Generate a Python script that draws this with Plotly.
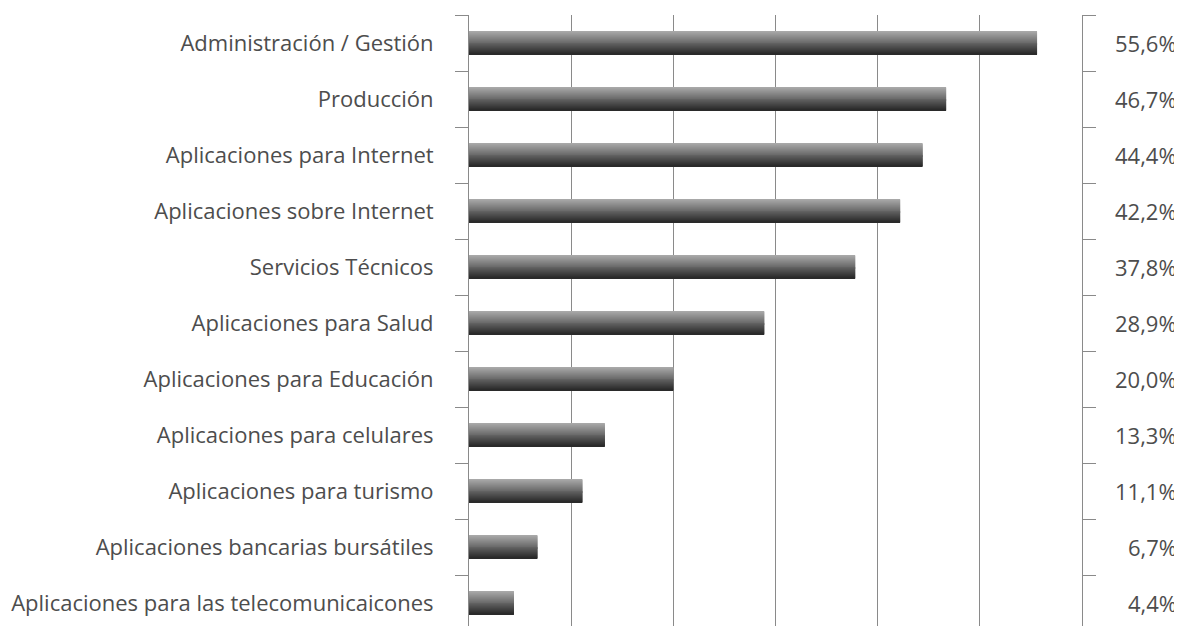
import plotly.graph_objects as go

categories = [
    "Administración / Gestión",
    "Producción",
    "Aplicaciones para Internet",
    "Aplicaciones sobre Internet",
    "Servicios Técnicos",
    "Aplicaciones para Salud",
    "Aplicaciones para Educación",
    "Aplicaciones para celulares",
    "Aplicaciones para turismo",
    "Aplicaciones bancarias bursátiles",
    "Aplicaciones para las telecomunicaicones",
]
values = [55.6, 46.7, 44.4, 42.2, 37.8, 28.9, 20.0, 13.3, 11.1, 6.7, 4.4]
value_labels = ["55,6%", "46,7%", "44,4%", "42,2%", "37,8%", "28,9%",
                "20,0%", "13,3%", "11,1%", "6,7%", "4,4%"]

OFF = 8  # default page body margin
W, H = 1182 - OFF, 626 - OFF
ML, MR, MT, MB = 469 - OFF, 100, 15 - OFF, 0
TEXT = "#4d4d4d"
AX = "#8a8a8a"
FONT = "Open Sans"
FS = 22

fig = go.Figure()

# cylinder-like gradient bars made of thin stacked strips
n = 24
bar_w = 0.42
strip = bar_w / n
top_c = (168, 168, 168)
bot_c = (42, 42, 42)
for i in range(n):
    t = i / (n - 1)
    c = tuple(round(top_c[k] + (bot_c[k] - top_c[k]) * t) for k in range(3))
    fig.add_trace(go.Bar(
        x=values, y=categories, orientation="h",
        width=strip * 1.15, offset=-bar_w / 2 + i * strip,
        marker=dict(color="rgb(%d,%d,%d)" % c, line=dict(width=0)),
        hoverinfo="skip", showlegend=False,
    ))

plot_w = W - ML - MR
for cat, lab in zip(categories, value_labels):
    fig.add_annotation(
        x=(1179 - OFF - ML) / plot_w, xref="paper", xanchor="right",
        y=cat, yref="y", text=lab, showarrow=False,
        font=dict(family=FONT, size=FS, color=TEXT),
    )

plot_h = H - MT - MB
span = plot_h / 56.0

fig.update_layout(
    width=W, height=H,
    margin=dict(l=ML, r=MR, t=MT, b=MB, pad=0),
    barmode="overlay",
    plot_bgcolor="white", paper_bgcolor="white",
    font=dict(family=FONT, size=FS, color=TEXT),
    xaxis=dict(range=[0, 60], dtick=10, showgrid=True, gridcolor=AX, gridwidth=1,
               showticklabels=False, zeroline=False, showline=False, ticks=""),
    yaxis=dict(type="category", categoryorder="array", categoryarray=categories,
               range=[-0.5 + span, -0.5],
               showline=True, linecolor=AX, linewidth=1, mirror="ticks",
               ticks="outside", tickson="boundaries", ticklen=13, tickcolor=AX,
               tickwidth=1, showgrid=False, ticklabelstandoff=30,
               tickfont=dict(family=FONT, size=FS, color=TEXT)),
)

fig.write_html("out.html")
